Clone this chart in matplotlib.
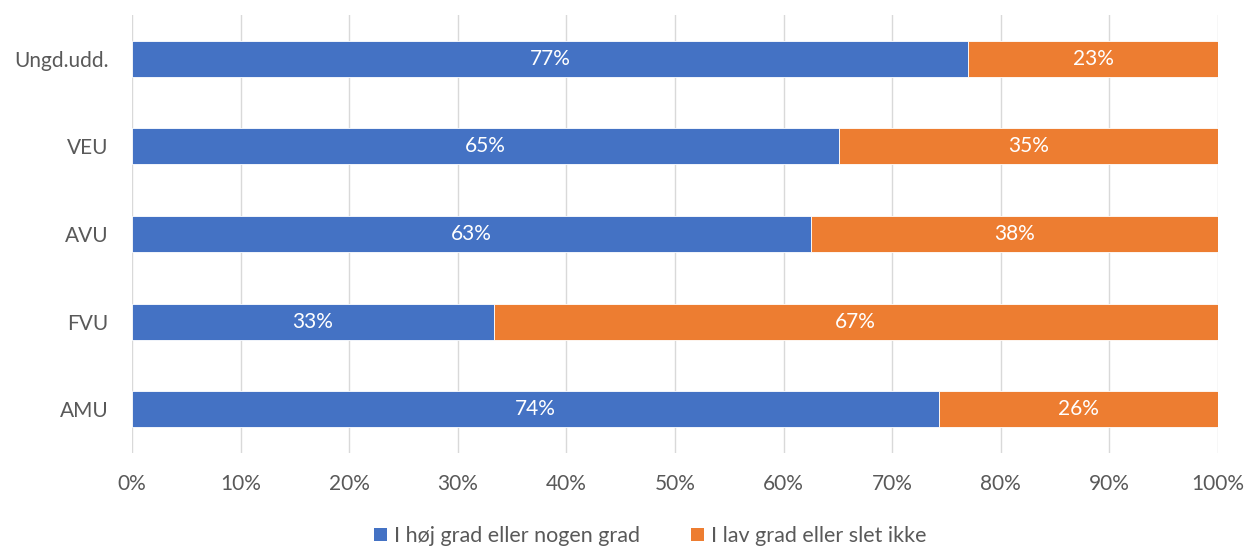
import matplotlib.pyplot as plt
from matplotlib.patches import Patch
import numpy as np

plt.rcParams['font.family'] = ['Lato', 'DejaVu Sans']

# data (percent)
categories = ["AMU", "FVU", "AVU", "VEU", "Ungd.udd."]
hoej = [74.3, 33.3, 62.5, 65.1, 77.0]
lav = [25.7, 66.7, 37.5, 34.9, 23.0]
series_names = ["I høj grad eller nogen grad", "I lav grad eller slet ikke"]
colors = ["#4472C4", "#ED7D31"]

fig = plt.figure(figsize=(12.53, 5.49), dpi=100)
ax = fig.add_axes([0.1053, 0.1749, 0.8667, 0.7978])

y = np.arange(len(categories))
left = np.zeros(len(categories))
for vals, col in zip([hoej, lav], colors):
    vals = np.array(vals)
    ax.barh(y, vals, left=left, height=0.41, color=col, edgecolor="white",
            linewidth=0.6, zorder=3)
    for yi, l, v in zip(y, left, vals):
        # round half up, like Excel
        ax.text(l + v / 2, yi, f"{int(np.floor(v + 0.5))}%", ha="center",
                va="center", color="white", fontsize=15, zorder=4)
    left = left + vals

ax.set_xlim(0, 100)
ax.set_ylim(-0.5, 4.5)
ax.set_xticks(np.arange(0, 101, 10))
ax.set_xticklabels([f"{t}%" for t in range(0, 101, 10)])
ax.set_yticks(y)
ax.set_yticklabels(categories)
ax.tick_params(axis="both", length=0, labelsize=15, colors="#595959")
ax.tick_params(axis="x", pad=15)
ax.tick_params(axis="y", pad=17)
ax.grid(axis="x", color="#D9D9D9", linewidth=1, zorder=0)
for s in ax.spines.values():
    s.set_visible(False)

handles = [Patch(facecolor=c) for c in colors]
fig.legend(handles, series_names, loc="lower center", ncol=2, frameon=False,
           fontsize=15.5, bbox_to_anchor=(0.519, -0.03), handlelength=0.6,
           handleheight=0.6, handletextpad=0.3, columnspacing=2.4,
           labelcolor="#595959")

fig.savefig("out.png", dpi=100)
